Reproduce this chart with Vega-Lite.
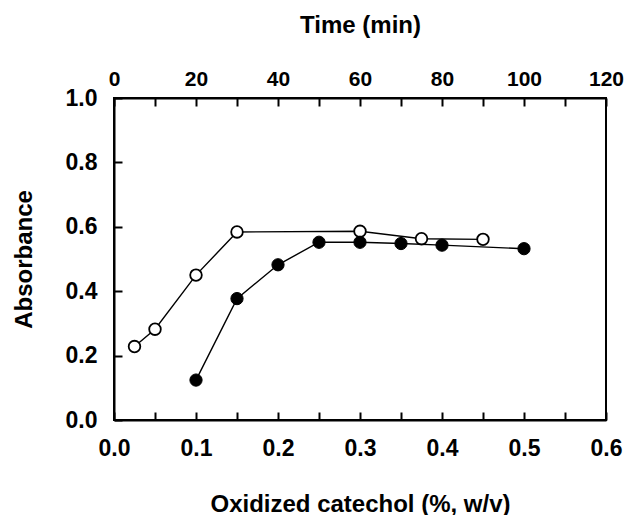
{
  "$schema": "https://vega.github.io/schema/vega-lite/v6.json",
  "autosize": "none",
  "width": 492,
  "height": 322,
  "padding": {"left": 114, "top": 98, "right": 18, "bottom": 95},
  "background": "white",
  "config": {
    "view": {"stroke": "black", "strokeWidth": 2},
    "font": "Liberation Sans",
    "axis": {
      "domainColor": "black", "domainWidth": 2, "tickColor": "black", "tickWidth": 2,
      "grid": false, "labelFont": "Liberation Sans", "labelFontWeight": "bold", "labelFontSize": 23,
      "labelColor": "black", "titleFont": "Liberation Sans", "titleFontWeight": "bold",
      "titleFontSize": 24, "titleColor": "black", "tickSize": -8, "labelFlush": false, "labelOverlap": false
    }
  },
  "datasets": {
    "time": [
      {"time": 5, "absorbance": 0.228},
      {"time": 10, "absorbance": 0.282},
      {"time": 20, "absorbance": 0.45},
      {"time": 30, "absorbance": 0.584},
      {"time": 60, "absorbance": 0.586},
      {"time": 75, "absorbance": 0.563},
      {"time": 90, "absorbance": 0.561}
    ],
    "catechol": [
      {"catechol": 0.1, "absorbance": 0.124},
      {"catechol": 0.15, "absorbance": 0.377},
      {"catechol": 0.2, "absorbance": 0.482},
      {"catechol": 0.25, "absorbance": 0.552},
      {"catechol": 0.3, "absorbance": 0.552},
      {"catechol": 0.35, "absorbance": 0.548},
      {"catechol": 0.4, "absorbance": 0.543},
      {"catechol": 0.5, "absorbance": 0.532}
    ]
  },
  "layer": [
    {
      "data": {"name": "time"},
      "encoding": {
        "x": {"field": "time", "type": "quantitative",
          "scale": {"domain": [0, 120], "nice": false, "zero": false},
          "axis": {"orient": "top", "title": "Time (min)", "values": [0,10,20,30,40,50,60,70,80,90,100,110,120],
            "labelExpr": "datum.value % 20 == 0 ? datum.label : ''", "labelFontSize": 21, "labelPadding": 17, "titlePadding": 31}},
        "y": {"field": "absorbance", "type": "quantitative",
          "scale": {"domain": [0, 1], "nice": false},
          "axis": {"title": "Absorbance", "values": [0,0.1,0.2,0.3,0.4,0.5,0.6,0.7,0.8,0.9,1.0], "format": ".1f",
            "labelExpr": "round(datum.value*10) % 2 == 0 ? datum.label : ''", "labelPadding": 25, "titlePadding": 29}}
      },
      "layer": [
        {"mark": {"type": "line", "color": "black", "strokeWidth": 1.4}},
        {"mark": {"type": "point", "shape": "circle", "filled": true, "fill": "white", "stroke": "black", "strokeWidth": 1.8, "size": 135, "opacity": 1}}
      ]
    },
    {
      "data": {"name": "catechol"},
      "encoding": {
        "x": {"field": "catechol", "type": "quantitative",
          "scale": {"domain": [0, 0.6], "nice": false, "zero": false},
          "axis": {"orient": "bottom", "title": "Oxidized catechol (%, w/v)", "values": [0,0.05,0.1,0.15,0.2,0.25,0.3,0.35,0.4,0.45,0.5,0.55,0.6], "format": ".1f",
            "labelExpr": "round(datum.value*100) % 10 == 0 ? datum.label : ''", "labelPadding": 25, "titlePadding": 32}},
        "y": {"field": "absorbance", "type": "quantitative", "scale": {"domain": [0, 1], "nice": false}}
      },
      "layer": [
        {"mark": {"type": "line", "color": "black", "strokeWidth": 1.4}},
        {"mark": {"type": "point", "shape": "circle", "filled": true, "fill": "black", "stroke": "black", "strokeWidth": 1, "size": 150, "opacity": 1}}
      ]
    }
  ],
  "resolve": {"scale": {"x": "independent"}, "axis": {"x": "independent"}}
}
